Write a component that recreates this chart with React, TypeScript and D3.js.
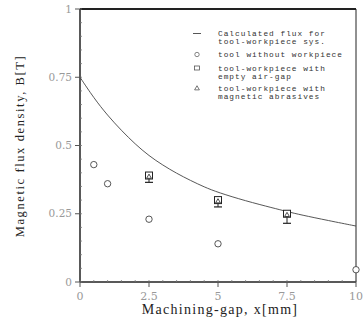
import React, { useEffect, useRef } from 'react';
import * as d3 from 'd3';

// calculated flux curve (tool-workpiece sys.)
const calcX = [0, 0.5, 1, 1.5, 2, 2.5, 3, 3.5, 4, 4.5, 5, 6, 7, 7.5, 8, 9, 10];
const calcB = [0.75, 0.674, 0.61, 0.555, 0.505, 0.462, 0.428, 0.398, 0.372, 0.348, 0.328, 0.297, 0.271, 0.258, 0.246, 0.225, 0.205];

// tool without workpiece
const noWpX = [0.5, 1, 2.5, 5, 10];
const noWpB = [0.43, 0.36, 0.23, 0.14, 0.045];

// tool-workpiece with empty air-gap
const airX = [2.5, 5, 7.5];
const airB = [0.39, 0.3, 0.25];
const airLow = [0.365, 0.275, 0.215];

// tool-workpiece with magnetic abrasives
const abrX = [2.5, 5, 7.5];
const abrB = [0.385, 0.295, 0.245];

const xTicks = [0, 2.5, 5, 7.5, 10];
const yTicks = [0, 0.25, 0.5, 0.75, 1];
const yTickLabels = ['0', '0.25', '0.5', '0.75', '1'];

const legendRows = [
  { kind: 'line', lines: ['Calculated flux for', 'tool-workpiece sys.'] },
  { kind: 'circle', lines: ['tool without workpiece'] },
  { kind: 'square', lines: ['tool-workpiece with', 'empty air-gap'] },
  { kind: 'triangle', lines: ['tool-workpiece with', 'magnetic abrasives'] },
];

const W = 363, H = 329;
const m = { left: 80, right: 356, top: 9, bottom: 282 };

export default function App() {
  const ref = useRef<SVGSVGElement>(null);

  useEffect(() => {
    const svg = d3.select(ref.current);
    svg.selectAll('*').remove();

    const x = d3.scaleLinear().domain([0, 10]).range([m.left, m.right]);
    const y = d3.scaleLinear().domain([0, 1]).range([m.bottom, m.top]);

    const ink = '#222';
    const tickCol = '#999';

    // frame
    svg.append('line').attr('x1', m.left).attr('x2', m.right).attr('y1', m.top).attr('y2', m.top)
      .attr('stroke', ink).attr('stroke-width', 1.8);
    svg.append('line').attr('x1', m.right).attr('x2', m.right).attr('y1', m.top).attr('y2', m.bottom)
      .attr('stroke', ink).attr('stroke-width', 1);
    svg.append('line').attr('x1', m.left).attr('x2', m.left).attr('y1', m.top).attr('y2', m.bottom)
      .attr('stroke', ink).attr('stroke-width', 1.5);
    svg.append('line').attr('x1', m.left).attr('x2', m.right).attr('y1', m.bottom).attr('y2', m.bottom)
      .attr('stroke', ink).attr('stroke-width', 1.5);

    // minor ticks
    const minor = d3.range(0, 1.0001, 0.05);
    svg.append('g').selectAll('line').data(minor).enter().append('line')
      .attr('x1', m.left).attr('x2', m.left + 2)
      .attr('y1', d => y(d)).attr('y2', d => y(d))
      .attr('stroke', '#777').attr('stroke-width', 0.8);
    const minorX = d3.range(0, 10.0001, 0.5);
    svg.append('g').selectAll('line').data(minorX).enter().append('line')
      .attr('x1', d => x(d)).attr('x2', d => x(d))
      .attr('y1', m.bottom).attr('y2', m.bottom - 2)
      .attr('stroke', '#777').attr('stroke-width', 0.8);

    // major ticks + labels
    const yg = svg.append('g');
    yTicks.forEach((t, i) => {
      yg.append('line').attr('x1', m.left - 5).attr('x2', m.left)
        .attr('y1', y(t)).attr('y2', y(t)).attr('stroke', '#555').attr('stroke-width', 1);
      yg.append('text').attr('x', m.left - 8).attr('y', y(t)).attr('dy', '0.35em')
        .attr('text-anchor', 'end').attr('font-family', 'DejaVu Serif, serif')
        .attr('font-size', 10.5).attr('fill', tickCol).text(yTickLabels[i]);
    });
    const xg = svg.append('g');
    xTicks.forEach(t => {
      xg.append('line').attr('x1', x(t)).attr('x2', x(t))
        .attr('y1', m.bottom).attr('y2', m.bottom + 5).attr('stroke', '#555').attr('stroke-width', 1);
      xg.append('text').attr('x', x(t)).attr('y', m.bottom + 18)
        .attr('text-anchor', 'middle').attr('font-family', 'DejaVu Serif, serif')
        .attr('font-size', 11).attr('fill', tickCol).text(String(t));
    });

    // axis titles
    svg.append('text').attr('x', 220).attr('y', 314).attr('text-anchor', 'middle')
      .attr('font-family', 'Liberation Serif, serif').attr('font-size', 14)
      .attr('letter-spacing', 1.3).attr('fill', ink).text('Machining-gap, x[mm]');
    svg.append('text').attr('transform', 'translate(24,146) rotate(-90)').attr('text-anchor', 'middle')
      .attr('font-family', 'Liberation Serif, serif').attr('font-size', 12.5)
      .attr('letter-spacing', 1.6).attr('fill', ink).text('Magnetic flux density, B[T]');

    // calculated curve
    const line = d3.line<number>().x((d, i) => x(calcX[i])).y(d => y(d)).curve(d3.curveBasis);
    svg.append('path').attr('d', line(calcB)).attr('fill', 'none')
      .attr('stroke', '#444').attr('stroke-width', 0.9);

    // circles
    svg.append('g').selectAll('circle').data(noWpB).enter().append('circle')
      .attr('cx', (d, i) => x(noWpX[i])).attr('cy', d => y(d)).attr('r', 3.2)
      .attr('fill', 'white').attr('stroke', '#444').attr('stroke-width', 0.9);

    // error bars
    const eb = svg.append('g');
    airB.forEach((v, i) => {
      const cx = x(airX[i]);
      eb.append('line').attr('x1', cx).attr('x2', cx).attr('y1', y(v)).attr('y2', y(airLow[i]))
        .attr('stroke', ink).attr('stroke-width', 1);
      eb.append('line').attr('x1', cx - 4).attr('x2', cx + 4).attr('y1', y(airLow[i])).attr('y2', y(airLow[i]))
        .attr('stroke', ink).attr('stroke-width', 1.2);
    });

    // squares
    svg.append('g').selectAll('rect').data(airB).enter().append('rect')
      .attr('x', (d, i) => x(airX[i]) - 3.5).attr('y', d => y(d) - 3.5)
      .attr('width', 7).attr('height', 7)
      .attr('fill', 'white').attr('stroke', ink).attr('stroke-width', 1);

    // triangles
    const tri = d3.symbol().type(d3.symbolTriangle).size(10);
    svg.append('g').selectAll('path').data(abrB).enter().append('path')
      .attr('d', tri)
      .attr('transform', (d, i) => `translate(${x(abrX[i])},${y(d)})`)
      .attr('fill', 'none').attr('stroke', ink).attr('stroke-width', 0.8);

    // legend
    const lg = svg.append('g').attr('font-family', 'Liberation Mono, monospace')
      .attr('font-size', 7.8).attr('letter-spacing', 1).attr('fill', '#333');
    const rowY = [36, 57, 71, 91];
    legendRows.forEach((r, i) => {
      const ly = rowY[i];
      const mx = 197;
      if (r.kind === 'line') {
        lg.append('line').attr('x1', mx - 4).attr('x2', mx + 4).attr('y1', ly - 2.5).attr('y2', ly - 2.5)
          .attr('stroke', '#444').attr('stroke-width', 0.9);
      } else if (r.kind === 'circle') {
        lg.append('circle').attr('cx', mx).attr('cy', ly - 2.5).attr('r', 2.2)
          .attr('fill', 'none').attr('stroke', '#666').attr('stroke-width', 0.8);
      } else if (r.kind === 'square') {
        lg.append('rect').attr('x', mx - 2.5).attr('y', ly - 5).attr('width', 5).attr('height', 4)
          .attr('fill', 'none').attr('stroke', '#555').attr('stroke-width', 0.8);
      } else {
        lg.append('path').attr('d', d3.symbol().type(d3.symbolTriangle).size(10)())
          .attr('transform', `translate(${mx},${ly - 2.5})`)
          .attr('fill', 'none').attr('stroke', '#555').attr('stroke-width', 0.8);
      }
      r.lines.forEach((t, j) => {
        lg.append('text').attr('x', 218).attr('y', ly + j * 8).text(t);
      });
    });
  }, []);

  return (
    <svg ref={ref} width={W} height={H}
      style={{ position: 'absolute', left: 0, top: 0, background: 'white', display: 'block' }} />
  );
}
